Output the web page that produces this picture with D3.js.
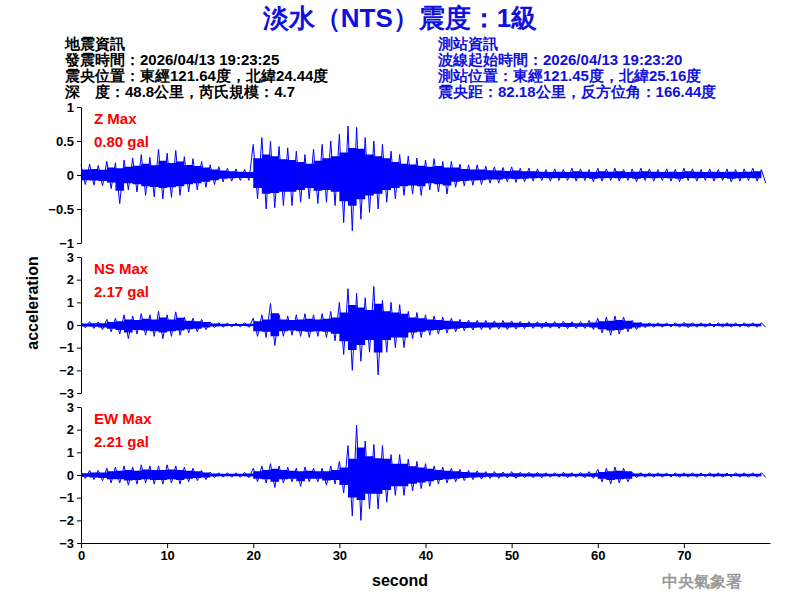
<!DOCTYPE html>
<html><head><meta charset="utf-8">
<script src="https://cdn.jsdelivr.net/npm/d3@7"></script>
<style>body{margin:0;background:#fff}svg{display:block}text{font-family:"Liberation Sans",Arial,sans-serif}</style>
</head><body>
<svg id="c" width="800" height="600"></svg>
<script>
const channels = ["Z","NS","EW"];
const maxLabels = ["0.80 gal","2.17 gal","2.21 gal"];
const xTicks = [0,10,20,30,40,50,60,70];
const zTicks = [1,0.5,0,-0.5,-1];
const hTicks = [3,2,1,0,-1,-2,-3];
const zMax = [0.15,0.16,0.14,0.2,0.18,0.22,0.25,0.3,0.26,0.38,0.32,0.36,0.27,0.24,0.2,0.15,0.12,0.1,0.09,0.08,0.45,0.55,0.5,0.42,0.4,0.35,0.3,0.38,0.45,0.5,0.6,0.72,0.7,0.55,0.5,0.45,0.35,0.3,0.28,0.25,0.22,0.24,0.2,0.2,0.16,0.15,0.15,0.13,0.12,0.11,0.12,0.1,0.1,0.09,0.08,0.09,0.08,0.1,0.09,0.08,0.1,0.09,0.1,0.08,0.09,0.1,0.09,0.08,0.09,0.08,0.1,0.09,0.08,0.09,0.08,0.09,0.08,0.09,0.1,0.08];
const zMin = [-0.14,-0.15,-0.16,-0.2,-0.42,-0.22,-0.25,-0.3,-0.32,-0.35,-0.33,-0.3,-0.25,-0.22,-0.18,-0.14,-0.1,-0.09,-0.08,-0.08,-0.35,-0.5,-0.48,-0.45,-0.45,-0.4,-0.35,-0.42,-0.4,-0.45,-0.7,-0.82,-0.65,-0.55,-0.5,-0.4,-0.35,-0.3,-0.28,-0.3,-0.22,-0.25,-0.28,-0.18,-0.16,-0.15,-0.14,-0.12,-0.12,-0.1,-0.11,-0.1,-0.09,-0.08,-0.09,-0.08,-0.08,-0.09,-0.08,-0.1,-0.09,-0.08,-0.09,-0.08,-0.1,-0.08,-0.09,-0.08,-0.09,-0.1,-0.08,-0.09,-0.08,-0.09,-0.08,-0.1,-0.09,-0.08,-0.09,-0.12];
const nsMax = [0.12,0.15,0.14,0.25,0.3,0.45,0.4,0.5,0.45,0.6,0.45,0.58,0.35,0.3,0.25,0.12,0.1,0.08,0.08,0.1,0.3,0.45,0.95,0.45,0.4,0.45,0.5,0.45,0.5,0.6,1.0,1.6,1.4,1.2,1.7,1.1,1.0,0.9,0.6,0.55,0.45,0.4,0.35,0.3,0.25,0.22,0.2,0.2,0.18,0.2,0.18,0.16,0.15,0.15,0.14,0.15,0.16,0.15,0.15,0.2,0.3,0.35,0.4,0.35,0.2,0.12,0.1,0.1,0.09,0.1,0.12,0.1,0.1,0.09,0.1,0.1,0.09,0.1,0.1,0.1];
const nsMin = [-0.12,-0.15,-0.2,-0.3,-0.4,-0.6,-0.4,-0.45,-0.5,-0.6,-0.5,-0.45,-0.35,-0.3,-0.2,-0.12,-0.1,-0.08,-0.08,-0.1,-0.5,-0.55,-0.9,-0.5,-0.45,-0.5,-0.55,-0.5,-0.55,-0.7,-1.3,-2.0,-1.6,-1.2,-2.2,-1.2,-1.0,-1.0,-0.6,-0.55,-0.45,-0.4,-0.35,-0.3,-0.25,-0.22,-0.2,-0.2,-0.18,-0.2,-0.18,-0.16,-0.15,-0.15,-0.14,-0.15,-0.16,-0.15,-0.15,-0.2,-0.35,-0.45,-0.4,-0.3,-0.2,-0.12,-0.1,-0.1,-0.09,-0.1,-0.12,-0.1,-0.1,-0.09,-0.1,-0.1,-0.09,-0.1,-0.1,-0.1];
const ewMax = [0.15,0.2,0.2,0.3,0.35,0.4,0.35,0.45,0.4,0.4,0.45,0.4,0.35,0.3,0.2,0.12,0.1,0.1,0.1,0.12,0.3,0.4,0.5,0.4,0.35,0.3,0.35,0.3,0.3,0.4,0.6,1.3,2.2,1.5,1.35,1.3,0.9,0.9,0.7,0.6,0.5,0.4,0.35,0.3,0.25,0.2,0.18,0.15,0.15,0.13,0.15,0.12,0.12,0.12,0.1,0.1,0.12,0.1,0.12,0.15,0.25,0.3,0.35,0.3,0.12,0.1,0.1,0.1,0.09,0.1,0.1,0.1,0.09,0.1,0.1,0.09,0.1,0.1,0.1,0.1];
const ewMin = [-0.15,-0.2,-0.25,-0.35,-0.35,-0.45,-0.4,-0.35,-0.4,-0.4,-0.35,-0.4,-0.3,-0.25,-0.2,-0.12,-0.1,-0.1,-0.1,-0.12,-0.3,-0.35,-0.55,-0.35,-0.3,-0.5,-0.3,-0.3,-0.45,-0.4,-0.8,-1.8,-2.0,-1.5,-1.5,-1.2,-0.9,-0.9,-0.7,-0.6,-0.5,-0.4,-0.35,-0.3,-0.25,-0.2,-0.18,-0.15,-0.15,-0.13,-0.15,-0.12,-0.12,-0.12,-0.1,-0.1,-0.12,-0.1,-0.12,-0.15,-0.3,-0.4,-0.35,-0.3,-0.12,-0.1,-0.1,-0.1,-0.09,-0.1,-0.1,-0.1,-0.09,-0.1,-0.1,-0.09,-0.1,-0.1,-0.1,-0.1];
const quakeInfo = ["地震資訊","發震時間：2026/04/13 19:23:25","震央位置：東經121.64度，北緯24.44度","深　度：48.8公里，芮氏規模：4.7"];
const stationInfo = ["測站資訊","波線起始時間：2026/04/13 19:23:20","測站位置：東經121.45度，北緯25.16度","震央距：82.18公里，反方位角：166.44度"];

const svg = d3.select("#c");
svg.append("text").attr("x",400).attr("y",27).attr("text-anchor","middle").attr("fill","#1010e0")
  .attr("font-size",26).attr("font-weight","bold").text("淡水（NTS）震度：1級");
quakeInfo.forEach((t,i)=>svg.append("text").attr("x",65).attr("y",49+i*16).attr("font-size",15).attr("font-weight","bold").attr("fill","#000").text(t));
stationInfo.forEach((t,i)=>svg.append("text").attr("x",438).attr("y",49+i*16).attr("font-size",15).attr("font-weight","bold").attr("fill","#1010e0").text(t));

const x = d3.scaleLinear().domain([0,80]).range([81,770]);
const panels = [
  {max:zMax,min:zMin,dom:[-1,1],ticks:zTicks,top:107,bot:243},
  {max:nsMax,min:nsMin,dom:[-3,3],ticks:hTicks,top:257,bot:393},
  {max:ewMax,min:ewMin,dom:[-3,3],ticks:hTicks,top:407,bot:543}
];
panels.forEach((p,k)=>{
  const y = d3.scaleLinear().domain(p.dom).range([p.bot,p.top]);
  const idx = d3.range(p.max.length);
  svg.append("path").datum(idx)
    .attr("d",d3.area().curve(d3.curveStepAfter).x(i=>x(i)).y0(i=>y(p.min[i]*0.55)).y1(i=>y(p.max[i]*0.55)))
    .attr("fill","#0000ff");
  const pts = [];
  p.max.forEach((v,i)=>{pts.push([i,v]);pts.push([i+0.5,p.min[i]]);});
  svg.append("path").attr("d",d3.line().x(d=>x(d[0])).y(d=>y(d[1]))(pts))
    .attr("fill","none").attr("stroke","#0000ff").attr("stroke-width",1);
  const ax = svg.append("g").attr("transform","translate(81,0)")
    .call(d3.axisLeft(y).tickValues(p.ticks).tickSize(4).tickSizeOuter(0).tickFormat(d3.format("")));
  ax.selectAll("text").attr("font-size",13).attr("font-weight","bold").attr("fill","#000").attr("font-family","Liberation Sans, Arial");
  ax.selectAll("line,path").attr("stroke","#000");
  svg.append("text").attr("x",94).attr("y",p.top+17).attr("fill","#ff0000").attr("font-size",15).attr("font-weight","bold").text(channels[k]+" Max");
  svg.append("text").attr("x",94).attr("y",p.top+40).attr("fill","#ff0000").attr("font-size",15).attr("font-weight","bold").text(maxLabels[k]);
});
const xa = svg.append("g").attr("transform","translate(0,543)")
  .call(d3.axisBottom(x).tickValues(xTicks).tickSize(5).tickSizeOuter(0));
xa.selectAll("text").attr("font-size",13).attr("font-weight","bold").attr("fill","#000").attr("font-family","Liberation Sans, Arial");
xa.selectAll("line,path").attr("stroke","#000");
svg.append("text").attr("x",400).attr("y",586).attr("text-anchor","middle").attr("font-size",16).attr("font-weight","bold").text("second");
svg.append("text").attr("transform","translate(38,303) rotate(-90)").attr("text-anchor","middle").attr("font-size",16).attr("font-weight","bold").text("acceleration");
svg.append("text").attr("x",702).attr("y",587).attr("text-anchor","middle").attr("font-size",16).attr("font-weight","bold").attr("fill","#999").attr("font-family","Noto Sans CJK TC").text("中央氣象署");
</script></body></html>
